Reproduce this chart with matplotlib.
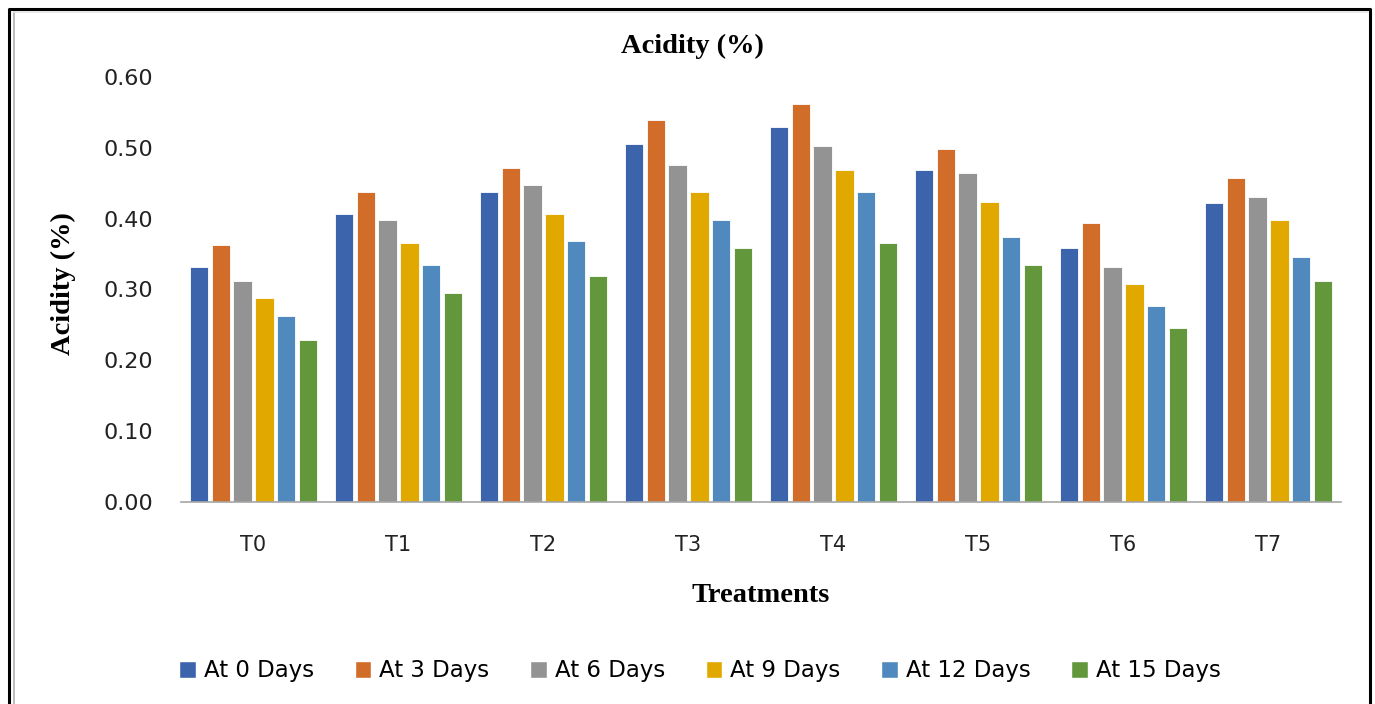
import numpy as np
import matplotlib as mpl; mpl.use("Agg")
import matplotlib.pyplot as plt
from matplotlib.lines import Line2D
from matplotlib.patches import Patch

treatments = ["T0", "T1", "T2", "T3", "T4", "T5", "T6", "T7"]
series = ["At 0 Days", "At 3 Days", "At 6 Days", "At 9 Days", "At 12 Days", "At 15 Days"]
day0  = [0.332, 0.407, 0.438, 0.506, 0.530, 0.468, 0.359, 0.422]
day3  = [0.362, 0.438, 0.471, 0.539, 0.562, 0.498, 0.394, 0.458]
day6  = [0.312, 0.398, 0.448, 0.475, 0.502, 0.465, 0.332, 0.430]
day9  = [0.288, 0.366, 0.407, 0.438, 0.468, 0.423, 0.307, 0.398]
day12 = [0.263, 0.335, 0.369, 0.398, 0.438, 0.374, 0.276, 0.346]
day15 = [0.229, 0.295, 0.319, 0.359, 0.366, 0.335, 0.246, 0.312]
values = [day0, day3, day6, day9, day12, day15]
colors = ["#3C64AD", "#D26C29", "#939393", "#E1A900", "#4F89BE", "#62983B"]
yticks = [0.0, 0.1, 0.2, 0.3, 0.4, 0.5, 0.6]

W, H = 1375, 704
fig = plt.figure(figsize=(W/100, H/100), dpi=100, facecolor="white")
ax = fig.add_axes([181/W, 1-501.7/H, (1341-181)/W, (501.7-77)/H])

x = np.arange(len(treatments))
slot = 0.15
for i, (vals, c) in enumerate(zip(values, colors)):
    ax.bar(x + (i-2.5)*slot, vals, width=0.128, color=c, edgecolor="white",
           linewidth=0.6, zorder=2)

ax.set_xlim(-0.5, len(treatments)-0.5)
ax.set_ylim(0, 0.6)
ax.set_yticks(yticks)
ax.set_yticklabels([f"{v:.2f}" for v in yticks], fontsize=16, color="#222")
ax.set_xticks(x)
ax.set_xticklabels(treatments, fontsize=15, color="#222")
ax.tick_params(axis="y", length=0, pad=20)
ax.tick_params(axis="x", length=0, pad=24)
for s in ["top", "right", "left"]:
    ax.spines[s].set_visible(False)
ax.spines["bottom"].set_color("#A6A6A6")
ax.spines["bottom"].set_linewidth(1.2)

serif = "Liberation Serif"
fig.text(692/W, 1-46/H, "Acidity (%)", ha="center", va="center",
         fontsize=20.5, fontweight="bold", family=serif)
fig.text(63/W, 1-284/H, "Acidity (%)", ha="center", va="center", rotation=90,
         fontsize=20.5, fontweight="bold", family=serif)
fig.text(761/W, 1-596/H, "Treatments", ha="center", va="center",
         fontsize=20.5, fontweight="bold", family=serif)

handles = [Patch(facecolor=c, edgecolor="white", label=s) for s, c in zip(series, colors)]
fig.legend(handles=handles, loc="center", bbox_to_anchor=(700/W, 1-671/H), ncol=6,
           frameon=False, fontsize=16.5, handlelength=0.72, handleheight=0.72,
           handletextpad=0.35, columnspacing=1.78)

# outer frame (left, top, right)
def fl(xs, ys, c, lw):
    fig.add_artist(Line2D([v/W for v in xs], [1-v/H for v in ys], color=c, lw=lw,
                          transform=fig.transFigure))
fl([8.5, 8.5, 1370, 1370], [704, 9, 9, 704], "black", 2.2)
fl([13.5, 13.5], [704, 11.5], "#B0B0B0", 1.2)
fl([13.5, 1368], [11.5, 11.5], "#E4E4E4", 1.2)

fig.savefig("out.png", dpi=100, facecolor="white")
